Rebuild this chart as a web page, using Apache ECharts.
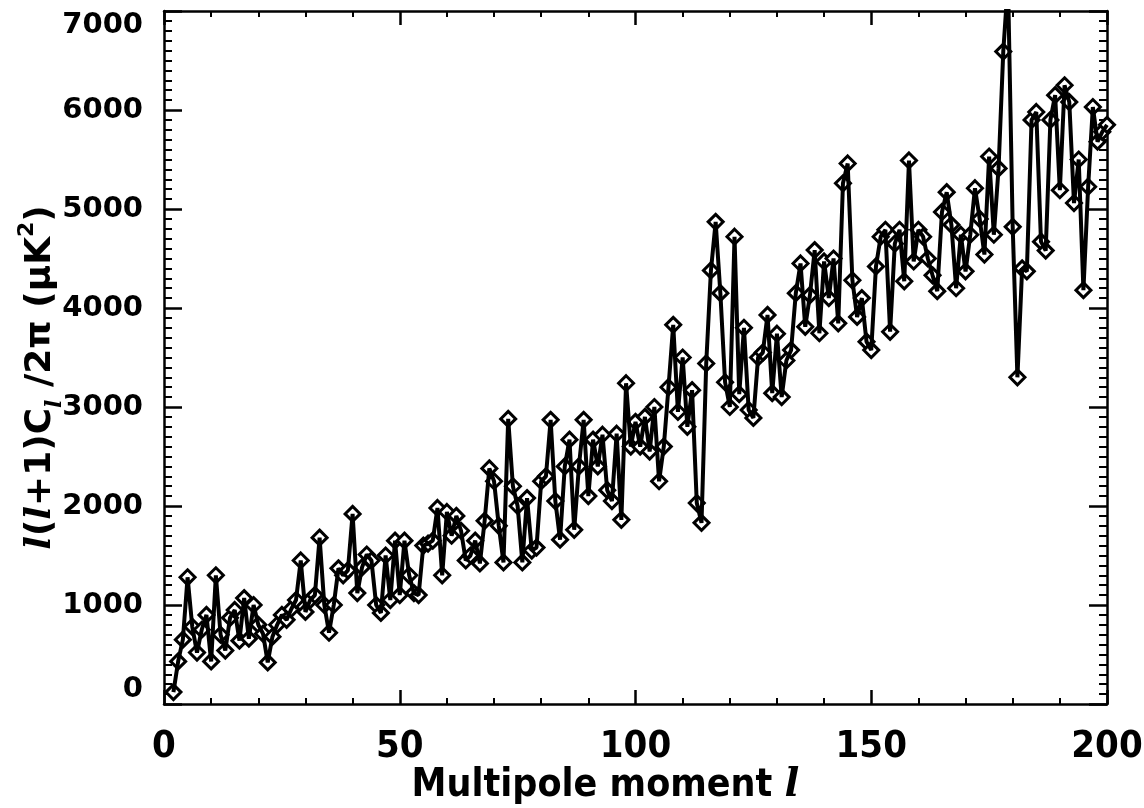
<!DOCTYPE html>
<html>
<head>
<meta charset="utf-8">
<script src="https://cdn.jsdelivr.net/npm/echarts@6/dist/echarts.min.js"></script>
<style>
html,body{margin:0;padding:0;background:#fff;}
#chart{width:1144px;height:808px;}
</style>
</head>
<body>
<div id="chart"></div>
<script>
// Multipole moments l = 2 .. 200
var multipoles = [];
for (var l = 2; l <= 200; l++) multipoles.push(l);

// l(l+1)C_l/2pi in microK^2
var powerValues = [
  120, 430, 650, 1280, 780, 520, 750, 900, 430, 1300,
  700, 540, 870, 950, 640, 1070, 660, 1000, 800, 710,
  420, 680, 800, 900, 850, 960, 1050, 1450, 930, 1050,
  1100, 1680, 1000, 720, 1000, 1370, 1300, 1350, 1920, 1120,
  1380, 1510, 1450, 1000, 920, 1500, 1050, 1650, 1100, 1650,
  1300, 1120, 1100, 1600, 1620, 1650, 1980, 1300, 1940, 1700,
  1900, 1750, 1450, 1500, 1650, 1420, 1850, 2380, 2250, 1800,
  1430, 2880, 2200, 2000, 1430, 2080, 1550, 1580, 2250, 2300,
  2870, 2050, 1660, 2400, 2670, 1760, 2400, 2870, 2100, 2670,
  2400, 2720, 2160, 2050, 2730, 1860, 3240, 2600, 2850, 2600,
  2900, 2550, 3000, 2250, 2600, 3200, 3830, 2950, 3500, 2800,
  3170, 2030, 1830, 3440, 4380, 4870, 4150, 3250, 3000, 4720,
  3130, 3800, 2970, 2890, 3500, 3550, 3930, 3140, 3740, 3100,
  3470, 3575, 4150, 4450, 3810, 4130, 4585, 3745, 4470, 4100,
  4500, 3845, 5260, 5460, 4280, 3910, 4100, 3660, 3575, 4420,
  4720, 4790, 3760, 4650, 4790, 4270, 5490, 4470, 4790, 4720,
  4500, 4330, 4170, 4970, 5170, 4840, 4200, 4740, 4370, 4740,
  5210, 4900, 4540, 5530, 4740, 5410, 6590, 7300, 4820, 3300,
  4400, 4370, 5900, 5980, 4670, 4580, 5900, 6150, 5190, 6250,
  6080, 5060, 5500, 4180, 5225, 6030, 5680, 5780, 5850
];

var xTicks = [0, 50, 100, 150, 200];
var yTicks = [0, 1000, 2000, 3000, 4000, 5000, 6000, 7000];

var points = multipoles.map(function (m, i) { return [m, powerValues[i]]; });

var chart = echarts.init(document.getElementById('chart'), null, {renderer: 'canvas'});

var axisCol = '#000';
function xAx(pos, showLabel) {
  return {
    type: 'value', position: pos, min: xTicks[0], max: xTicks[xTicks.length - 1], interval: 50,
    axisLine: {show: true, onZero: false, lineStyle: {color: axisCol, width: 2.5}},
    axisTick: {show: true, inside: true, length: 14, lineStyle: {color: axisCol, width: 2.5}},
    minorTick: {show: true, splitNumber: 5, length: 6, lineStyle: {color: axisCol, width: 2}},
    splitLine: {show: false},
    axisLabel: {
      show: showLabel, margin: 24, color: '#000',
      formatter: function (v) { return String(v); },
      fontFamily: 'DejaVu Sans Condensed, DejaVu Sans', fontWeight: 'bold', fontSize: 38
    },
    name: showLabel ? '{n|Multipole moment }{i|l}' : '',
    nameLocation: 'middle', nameGap: 62, nameMoveOverlap: false,
    nameTextStyle: {
      padding: [0, 60, 0, 0],
      rich: {
        n: {fontFamily: 'DejaVu Sans Condensed, DejaVu Sans', fontWeight: 'bold', fontSize: 39, color: '#000'},
        i: {fontFamily: 'DejaVu Serif', fontStyle: 'italic', fontWeight: 'bold', fontSize: 39, color: '#000'}
      }
    }
  };
}
function yAx(pos, showLabel) {
  return {
    type: 'value', position: pos, min: yTicks[0], max: yTicks[yTicks.length - 1], interval: 1000,
    axisLine: {show: true, onZero: false, lineStyle: {color: axisCol, width: 2.5}},
    axisTick: {show: true, inside: true, length: 18, lineStyle: {color: axisCol, width: 2.5}},
    minorTick: {show: true, splitNumber: 10, length: 8, lineStyle: {color: axisCol, width: 2}},
    splitLine: {show: false},
    axisLabel: {
      show: showLabel, margin: 21, color: '#000',
      verticalAlignMinLabel: 'bottom', verticalAlignMaxLabel: 'top',
      formatter: function (v) { return String(v); },
      fontFamily: 'DejaVu Sans', fontWeight: 'bold', fontSize: 29
    },
    name: showLabel ? '{i|l}{t|(}{i|l}{t|+1)C}{sub|l}{t| /2π (μK}{sup|2}{t|)}' : '',
    nameLocation: 'middle', nameGap: 98, nameRotate: 90, nameMoveOverlap: false,
    nameTextStyle: {
      padding: [0, 40, 0, 0],
      rich: {
        t: {fontFamily: 'DejaVu Sans', fontWeight: 'bold', fontSize: 36, color: '#000', lineHeight: 50},
        i: {fontFamily: 'DejaVu Serif', fontStyle: 'italic', fontWeight: 'bold', fontSize: 36, color: '#000', lineHeight: 50},
        sub: {fontFamily: 'DejaVu Serif', fontStyle: 'italic', fontWeight: 'bold', fontSize: 22, color: '#000', verticalAlign: 'bottom', lineHeight: 50},
        sup: {fontFamily: 'DejaVu Sans', fontWeight: 'bold', fontSize: 22, color: '#000', verticalAlign: 'top', lineHeight: 50}
      }
    }
  };
}

chart.setOption({
  backgroundColor: '#fff',
  animation: false,
  grid: {left: 164, right: 37, top: 11, bottom: 104, containLabel: false, outerBoundsMode: 'none'},
  xAxis: [xAx('bottom', true), xAx('top', false)],
  yAxis: [yAx('left', true), yAx('right', false)],
  series: [
    {
      type: 'scatter', xAxisIndex: 0, yAxisIndex: 0, z: 2, clip: true,
      symbol: 'diamond', symbolSize: [15, 15],
      itemStyle: {color: '#fff', borderColor: '#000', borderWidth: 3, opacity: 1},
      data: points
    },
    {
      type: 'line', xAxisIndex: 0, yAxisIndex: 0, z: 3, clip: true,
      showSymbol: false, symbol: 'none',
      lineStyle: {color: '#000', width: 4},
      data: points
    }
  ]
});
</script>
</body>
</html>
